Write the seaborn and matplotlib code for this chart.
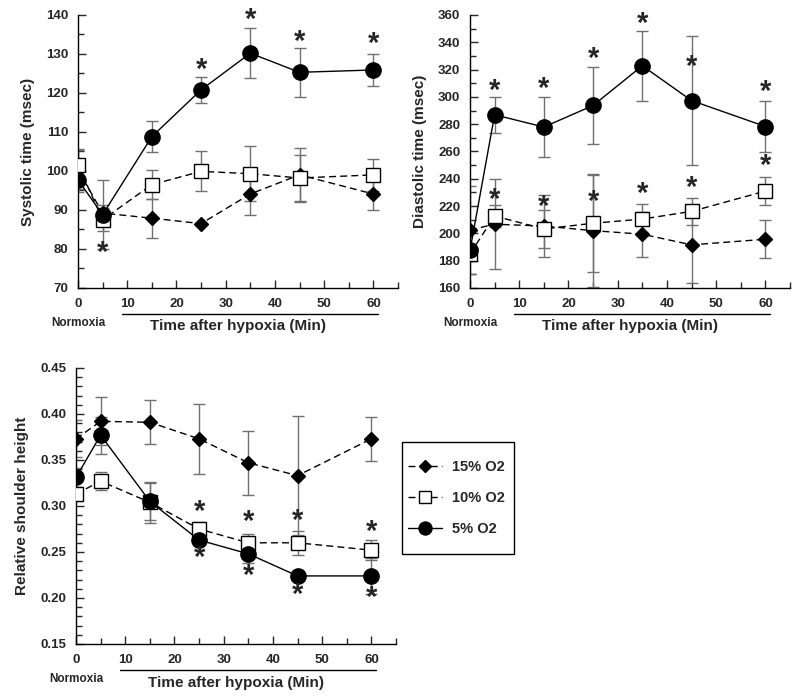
import numpy as np
import pandas as pd
import matplotlib
matplotlib.use("Agg")
import matplotlib.pyplot as plt
import matplotlib.transforms as mtransforms
from matplotlib.patches import Rectangle
from matplotlib.ticker import MultipleLocator, FormatStrFormatter
import seaborn as sns

sns.set_style("ticks")
plt.rcParams['font.family'] = ['Liberation Sans', 'DejaVu Sans']
plt.rcParams['font.weight'] = 'bold'

# time points (min)
time = [0, 5, 15, 25, 35, 45, 60]
groups = ['15% O2', '10% O2', '5% O2']

# systolic time (msec)
sys_mean = {'15% O2': [100.3, 89.2, 87.9, 86.5, 94.1, 99.0, 94.1],
            '10% O2': [101.6, 87.5, 96.5, 99.9, 99.3, 98.2, 99.0],
            '5% O2': [97.7, 88.8, 108.8, 120.8, 130.2, 125.3, 125.9]}
sys_err = {'15% O2': [5.0, 2.0, 5.0, 0.0, 5.5, 7.0, 4.2],
           '10% O2': [4.0, 3.0, 3.8, 5.1, 7.0, 6.0, 4.2],
           '5% O2': [3.0, 8.8, 4.0, 3.4, 6.4, 6.3, 4.0]}
sys_star_x = [5, 25, 35, 45, 60]
sys_star_y = [79.0, 126.0, 138.7, 133.2, 132.7]

# diastolic time (msec)
dia_mean = {'15% O2': [202.5, 206.7, 205.4, 202.0, 199.4, 191.6, 195.7],
            '10% O2': [185.0, 212.7, 203.3, 207.4, 210.5, 216.1, 231.0],
            '5% O2': [187.5, 286.9, 277.9, 293.7, 322.8, 297.3, 278.3]}
dia_err = {'15% O2': [32.0, 33.0, 23.0, 41.0, 16.5, 28.0, 14.0],
           '10% O2': [5.0, 8.0, 14.0, 36.0, 11.0, 10.0, 10.0],
           '5% O2': [5.0, 13.0, 22.0, 28.0, 25.5, 47.0, 19.0]}
dia_star_x = [5, 15, 25, 35, 45, 60, 5, 15, 25, 35, 45, 60]
dia_star_y = [304.6, 305.8, 327.7, 353.7, 321.6, 303.4,
              224.4, 219.5, 223.0, 229.0, 233.6, 249.4]

# relative shoulder height
sh_mean = {'15% O2': [0.373, 0.392, 0.391, 0.373, 0.347, 0.333, 0.373],
           '10% O2': [0.313, 0.327, 0.304, 0.275, 0.260, 0.260, 0.252],
           '5% O2': [0.331, 0.377, 0.305, 0.263, 0.248, 0.224, 0.224]}
sh_err = {'15% O2': [0.020, 0.026, 0.024, 0.038, 0.035, 0.065, 0.024],
          '10% O2': [0.008, 0.010, 0.022, 0.008, 0.010, 0.013, 0.011],
          '5% O2': [0.010, 0.020, 0.020, 0.005, 0.010, 0.003, 0.020]}
sh_star_x = [25, 35, 45, 60, 25, 35, 45, 60]
sh_star_y = [0.293, 0.283, 0.284, 0.272, 0.243, 0.224, 0.203, 0.200]

styles = {'15% O2': dict(marker='D', markersize=7, markerfacecolor='black',
                         linestyle=(0, (5, 3))),
          '10% O2': dict(marker='s', markersize=10, markerfacecolor='white',
                         linestyle=(0, (5, 3))),
          '5% O2': dict(marker='o', markersize=11, markerfacecolor='black',
                        linestyle='-')}


def panel(ax, means, errs, star_x, star_y, ylim, major, minor, ylabel, fmt):
    for g in groups:
        ax.errorbar(time, means[g], yerr=errs[g], fmt='none', ecolor='#707070',
                    elinewidth=1, capsize=4, capthick=1, zorder=1)
    for g in groups:
        df = pd.DataFrame({'t': time, 'v': means[g]})
        sns.lineplot(data=df, x='t', y='v', ax=ax, color='black',
                     markeredgecolor='black', markeredgewidth=1, linewidth=1,
                     label=g, zorder=3, **styles[g])
    for sx, sy in zip(star_x, star_y):
        ax.text(sx, sy, '*', ha='center', va='center', fontsize=21,
                fontweight='bold')
    ax.set_xlim(0, 65)
    ax.set_ylim(*ylim)
    ax.xaxis.set_major_locator(MultipleLocator(10))
    ax.xaxis.set_minor_locator(MultipleLocator(5))
    ax.yaxis.set_major_locator(MultipleLocator(major))
    ax.yaxis.set_minor_locator(MultipleLocator(minor))
    ax.yaxis.set_major_formatter(FormatStrFormatter(fmt))
    ax.tick_params(which='major', direction='in', length=6, width=1,
                   labelsize=9.5, pad=7)
    ax.tick_params(which='minor', direction='in', length=4, width=1)
    for lab in ax.get_xticklabels() + ax.get_yticklabels():
        lab.set_fontweight('bold')
    sns.despine(ax=ax)
    for s in ['left', 'bottom']:
        ax.spines[s].set_color('black')
        ax.spines[s].set_linewidth(1)
    ax.set_xlabel('')
    ax.set_ylabel(ylabel, fontsize=11, fontweight='bold', labelpad=8)
    ax.get_legend().remove()
    tr = mtransforms.blended_transform_factory(ax.transData, ax.transAxes)
    ax.plot([9, 61], [-0.095, -0.095], color='black', lw=1, transform=tr,
            clip_on=False)
    ax.text(0, -0.128, 'Normoxia', transform=tr, ha='center', va='center',
            fontsize=8.5, fontweight='bold')
    ax.text(32.5, -0.14, 'Time after hypoxia (Min)', transform=tr,
            ha='center', va='center', fontsize=11, fontweight='bold')


fig = plt.figure(figsize=(8, 7), dpi=100)
ax1 = fig.add_axes([0.0975, 0.5886, 0.40, 0.39])
ax2 = fig.add_axes([0.5875, 0.5886, 0.40, 0.39])
ax3 = fig.add_axes([0.095, 0.08, 0.40, 0.3943])

panel(ax1, sys_mean, sys_err, sys_star_x, sys_star_y, (70, 140), 10, 5,
      'Systolic time (msec)', '%d')
panel(ax2, dia_mean, dia_err, dia_star_x, dia_star_y, (160, 360), 20, 10,
      'Diastolic time (msec)', '%d')
panel(ax3, sh_mean, sh_err, sh_star_x, sh_star_y, (0.15, 0.45), 0.05, 0.01,
      'Relative shoulder height', '%.2f')

handles, labels = ax3.get_legend_handles_labels()
leg = fig.legend(handles, labels, loc='center left',
                 bbox_to_anchor=(408 / 800, 1 - 498 / 700), borderaxespad=0,
                 frameon=False, handlelength=2.3, handletextpad=0.7,
                 markerscale=0.85, borderpad=0, labelspacing=1.15,
                 prop={'size': 10.5, 'weight': 'bold'})
fig.add_artist(Rectangle((402 / 800, 1 - 554 / 700), 112 / 800, 112 / 700,
                         transform=fig.transFigure, fill=False,
                         edgecolor='black', linewidth=1))

fig.savefig('out.png', dpi=100)
